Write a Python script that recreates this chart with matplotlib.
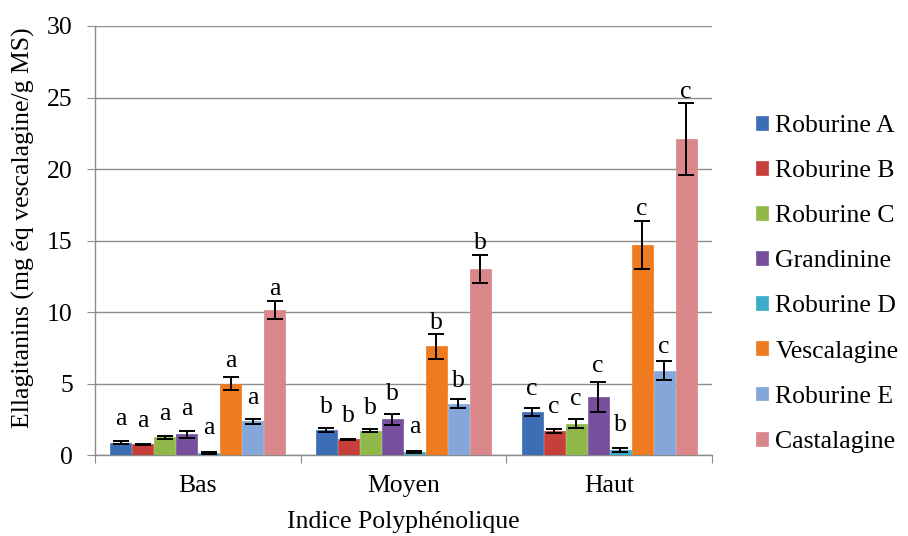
import numpy as np
import matplotlib.pyplot as plt

plt.rcParams['font.family'] = ['Liberation Serif', 'DejaVu Serif']

groups = ["Bas", "Moyen", "Haut"]
compounds = ["Roburine A", "Roburine B", "Roburine C", "Grandinine",
             "Roburine D", "Vescalagine", "Roburine E", "Castalagine"]
colors = ["#3C6EB6", "#C63F3B", "#8FB849", "#76509C",
          "#3AAEC8", "#EE7B20", "#84A6D8", "#D9878A"]

# values per compound: [Bas, Moyen, Haut]
means = {
    "Roburine A":  [0.85, 1.75, 3.0],
    "Roburine B":  [0.75, 1.1, 1.7],
    "Roburine C":  [1.25, 1.7, 2.2],
    "Grandinine":  [1.45, 2.5, 4.05],
    "Roburine D":  [0.15, 0.2, 0.35],
    "Vescalagine": [5.0, 7.6, 14.7],
    "Roburine E":  [2.35, 3.6, 5.9],
    "Castalagine": [10.15, 13.0, 22.1],
}
errors = {
    "Roburine A":  [0.1, 0.15, 0.3],
    "Roburine B":  [0.05, 0.05, 0.15],
    "Roburine C":  [0.1, 0.1, 0.3],
    "Grandinine":  [0.25, 0.4, 1.07],
    "Roburine D":  [0.05, 0.05, 0.12],
    "Vescalagine": [0.45, 0.85, 1.7],
    "Roburine E":  [0.2, 0.3, 0.65],
    "Castalagine": [0.65, 1.0, 2.5],
}
letters = {
    "Roburine A":  ["a", "b", "c"],
    "Roburine B":  ["a", "b", "c"],
    "Roburine C":  ["a", "b", "c"],
    "Grandinine":  ["a", "b", "c"],
    "Roburine D":  ["a", "a", "b"],
    "Vescalagine": ["a", "b", "c"],
    "Roburine E":  ["a", "b", "c"],
    "Castalagine": ["a", "b", "c"],
}

FS = 18.5

fig = plt.figure(figsize=(9.08, 5.36), dpi=100)
ax = fig.add_axes([0.1046, 0.151, 0.6795, 0.8005])

x = np.arange(len(groups))
w = 0.107
n = len(compounds)
for i, c in enumerate(compounds):
    pos = x + (i - (n - 1) / 2) * w
    m = np.array(means[c])
    e = np.array(errors[c])
    ax.bar(pos, m, width=w * 0.95, color=colors[i], edgecolor=colors[i],
           linewidth=0.5, label=c, zorder=3)
    ax.errorbar(pos, m, yerr=e, fmt="none", ecolor="black", elinewidth=1.4,
                capsize=5.5, capthick=1.4, zorder=4)
    for j in range(len(groups)):
        top = m[j] + e[j]
        # letters sit further above the small bars than above the tall ones
        gap_px = max(6.0, 19 - 1.6 * top) - 5.6
        ax.annotate(letters[c][j], (pos[j], top), xytext=(0, gap_px * 0.72),
                    textcoords="offset points", ha="center", va="bottom",
                    fontsize=FS)

ax.set_ylim(0, 30)
ax.set_xlim(-0.5, 2.5)
ax.set_yticks(range(0, 31, 5))
ax.yaxis.grid(True, color="#8C8C8C", linewidth=1.0, zorder=0)
ax.set_axisbelow(True)

ax.set_xticks([-0.5, 0.5, 1.5, 2.5])
ax.set_xticklabels([])
ax.set_xticks(x, minor=True)
ax.set_xticklabels(groups, minor=True)
ax.tick_params(axis="x", which="minor", length=0, pad=14, labelsize=FS)
ax.tick_params(axis="x", which="major", length=6, color="#8C8C8C")
ax.tick_params(axis="y", length=6, color="#8C8C8C", labelsize=FS, pad=10)

for s in ["top", "right"]:
    ax.spines[s].set_visible(False)
for s in ["left", "bottom"]:
    ax.spines[s].set_color("#8C8C8C")
    ax.spines[s].set_linewidth(1.0)

ax.set_ylabel("Ellagitanins (mg éq vescalagine/g MS)", fontsize=FS)
ax.yaxis.set_label_coords(-0.097, 0.53)
ax.set_xlabel("Indice Polyphénolique", fontsize=FS)
ax.xaxis.set_label_coords(0.5, -0.131)

ax.legend(loc="center left", bbox_to_anchor=(1.034, 0.399), frameon=False,
          fontsize=FS, handlelength=0.45, handleheight=0.45, handletextpad=0.3,
          labelspacing=0.9)

fig.savefig("out.png", dpi=100)
